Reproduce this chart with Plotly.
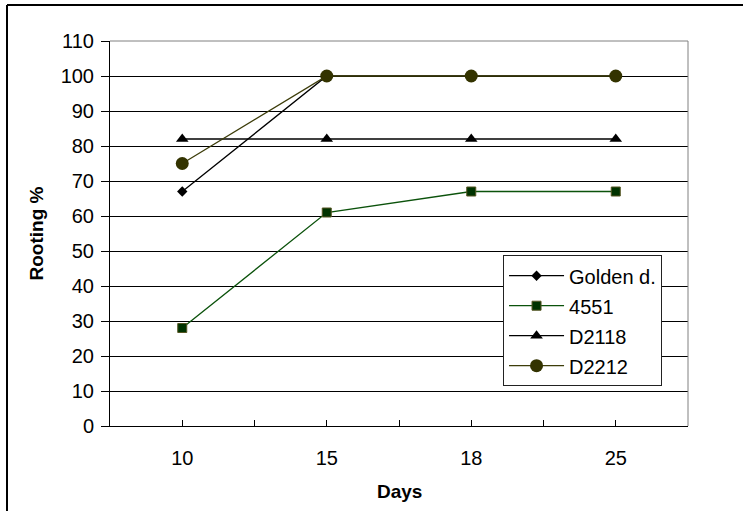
import plotly.graph_objects as go

# Rooting percentage of cuttings by day of observation
days = ["10", "15", "18", "25"]
golden_d = [67, 100, 100, 100]
line_4551 = [28, 61, 67, 67]
d2118 = [82, 82, 82, 82]
d2212 = [75, 100, 100, 100]

xpos = list(range(len(days)))
FONT = "Liberation Sans, Arial, sans-serif"

fig = go.Figure()

series = [
    ("Golden d.", golden_d, "#000000", dict(symbol="diamond", size=8, color="#000000")),
    ("4551", line_4551, "#0b520b",
     dict(symbol="square", size=9, color="#003300", line=dict(color="#555522", width=1))),
    ("D2118", d2118, "#000000", dict(symbol="triangle-up", size=11, color="#000000")),
    ("D2212", d2212, "#3d3d0a", dict(symbol="circle", size=13, color="#333300")),
]

for name, vals, lc, mk in series:
    fig.add_trace(go.Scatter(
        x=xpos, y=vals, name=name, mode="lines+markers",
        line=dict(color=lc, width=1.3), marker=mk,
        legendgroup=name,
    ))

fig.update_layout(
    width=745, height=511,
    margin=dict(l=110, r=57, t=41, b=85),
    paper_bgcolor="white", plot_bgcolor="white",
    font=dict(family=FONT, size=20, color="#000000"),
    showlegend=True,
    legend=dict(
        x=0.68, y=0.4436, xanchor="left", yanchor="top",
        bgcolor="white", bordercolor="#222222", borderwidth=1,
        font=dict(family=FONT, size=20, color="#000000"),
        tracegroupgap=1, itemwidth=55,
    ),
    xaxis=dict(
        range=[-0.5, 3.5], tickmode="array", tickvals=xpos, ticktext=days,
        ticks="inside", ticklen=6, tickcolor="#000000", tickwidth=1,
        minor=dict(tickmode="array", tickvals=[0.5, 1.5, 2.5], ticks="inside",
                   ticklen=6, tickcolor="#000000", tickwidth=1, showgrid=False),
        showline=True, linecolor="#000000", linewidth=1,
        showgrid=False, zeroline=False,
        ticklabelstandoff=14,
        tickfont=dict(family=FONT, size=20),
    ),
    yaxis=dict(
        range=[0, 110], tickmode="linear", tick0=0, dtick=10,
        ticks="outside", ticklen=8, tickcolor="#000000", tickwidth=1,
        showline=True, linecolor="#000000", linewidth=1,
        showgrid=True, gridcolor="#000000", gridwidth=1, zeroline=False,
        ticklabelstandoff=3,
        tickfont=dict(family=FONT, size=20),
    ),
    annotations=[
        dict(text="Rooting %", xref="paper", yref="paper", x=-0.1263, y=0.5,
             xanchor="center", yanchor="middle",
             textangle=-90, showarrow=False,
             font=dict(family=FONT, size=19, weight="bold")),
        dict(text="Days", xref="paper", yref="paper", x=0.5, y=-0.171,
             xanchor="center", yanchor="middle",
             showarrow=False, font=dict(family=FONT, size=19, weight="bold")),
    ],
    shapes=[
        # grey frame on the top and right of the plotting area
        dict(type="line", xref="paper", yref="paper", x0=0, x1=1, y0=1, y1=1,
             line=dict(color="#808080", width=1)),
        dict(type="line", xref="paper", yref="paper", x0=1, x1=1, y0=0, y1=1,
             line=dict(color="#808080", width=1)),
        # chart frame (top and left edges)
        dict(type="line", xref="paper", yref="paper",
             x0=-103 / 578, x1=633 / 578, y0=421 / 385, y1=421 / 385,
             line=dict(color="#000000", width=2)),
        dict(type="line", xref="paper", yref="paper",
             x0=-103 / 578, x1=-103 / 578, y0=421 / 385, y1=-90 / 385,
             line=dict(color="#000000", width=2)),
    ],
)

fig.write_html("out.html")
